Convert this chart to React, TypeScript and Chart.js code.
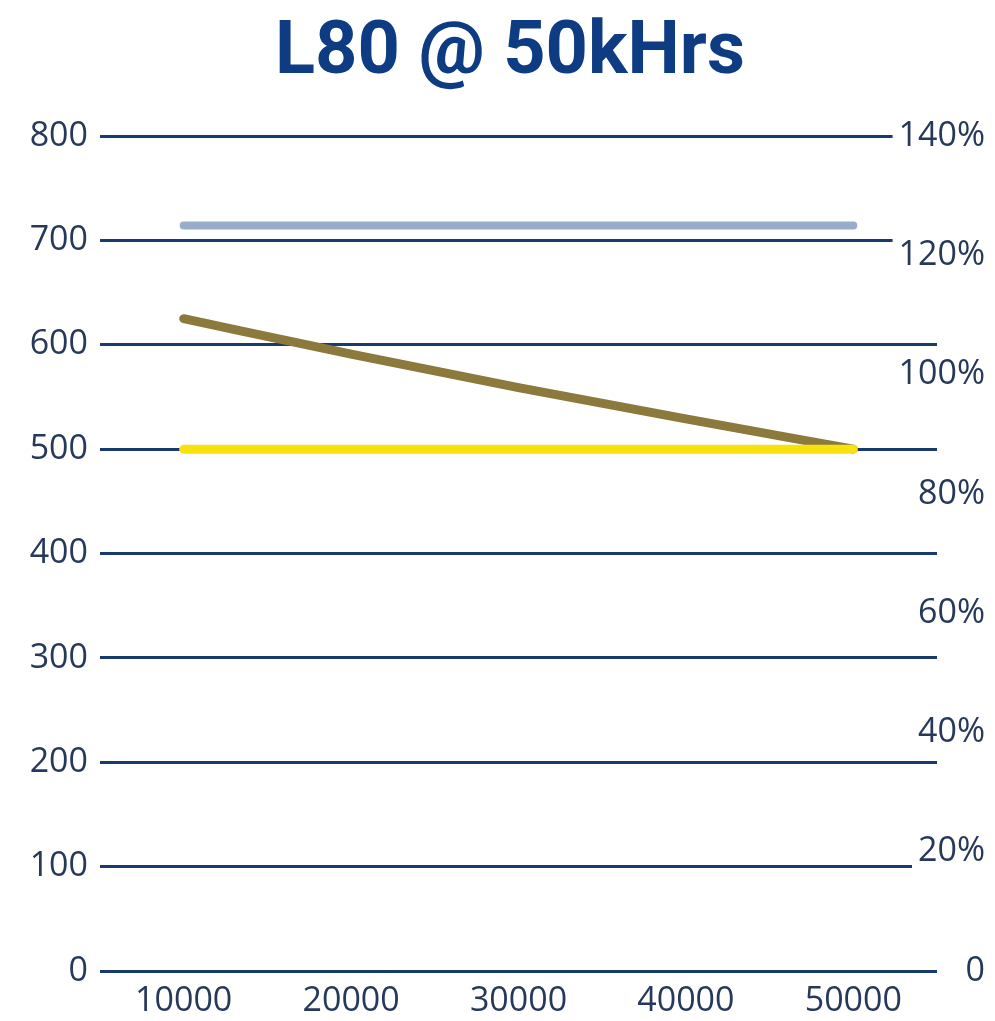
import { useEffect, useRef } from 'react';
import { Chart, registerables } from 'chart.js';

Chart.register(...registerables);

// Operating hours along the x axis
const hours = ['10000', '20000', '30000', '40000', '50000'];
// Lumen output declining to the L80 point at 50k hours
const lumenOutput = [625, 591, 559, 529, 500];
// L80 threshold in lumens
const l80Threshold = [500, 500, 500, 500, 500];
// Initial output as a percentage of the threshold (right axis)
const initialPercent = [125, 125, 125, 125, 125];

const lumenMin = 0;
const lumenMax = 800;
const lumenStep = 100;
const percentMin = 0;
const percentMax = 140;
const percentStep = 20;

const tickFont = { family: "'Open Sans', sans-serif", size: 34 };
const tickColor = '#26395A';
const gridColor = '#183A6C';

export default function App() {
  const canvasRef = useRef<HTMLCanvasElement | null>(null);

  useEffect(() => {
    if (!canvasRef.current) return;
    const chart = new Chart(canvasRef.current, {
      type: 'line',
      data: {
        labels: hours,
        datasets: [
          {
            label: 'L80',
            data: l80Threshold,
            yAxisID: 'y',
            borderColor: '#F8E10C',
            borderWidth: 9,
            borderCapStyle: 'round',
            pointRadius: 0,
            order: 0,
          },
          {
            label: 'Lumens',
            data: lumenOutput,
            yAxisID: 'y',
            borderColor: '#8B7A3B',
            borderWidth: 9,
            borderCapStyle: 'round',
            cubicInterpolationMode: 'monotone',
            pointRadius: 0,
            order: 1,
          },
          {
            label: 'Initial %',
            data: initialPercent,
            yAxisID: 'y1',
            borderColor: '#98ADCA',
            borderWidth: 8,
            borderCapStyle: 'round',
            pointRadius: 0,
            order: 2,
          },
        ],
      },
      options: {
        responsive: false,
        animation: false,
        // negative right padding shifts the title centre to the right
        layout: { padding: { left: 0, right: -25, top: 0, bottom: 0 } },
        plugins: {
          legend: { display: false },
          tooltip: { enabled: false },
          title: {
            display: true,
            text: 'L80 @ 50kHrs',
            color: '#0E3C82',
            font: { family: 'Roboto', weight: 'bold', size: 74 },
            padding: { top: 9.7, bottom: 37.5 },
          },
        },
        scales: {
          x: {
            type: 'category',
            offset: true,
            grid: { display: false, drawTicks: false },
            border: { display: false },
            ticks: { font: tickFont, color: tickColor, padding: 10, maxRotation: 0 },
            afterFit: (scale: any) => {
              scale.height = 50;
            },
          },
          y: {
            position: 'left',
            min: lumenMin,
            max: lumenMax,
            ticks: { stepSize: lumenStep, font: tickFont, color: tickColor, padding: 12 },
            grid: { color: gridColor, lineWidth: 3, drawTicks: false },
            border: { display: false },
            afterFit: (scale: any) => {
              scale.width = 100;
              scale.paddingTop = 0;
              scale.paddingBottom = 0;
            },
          },
          y1: {
            position: 'right',
            min: percentMin,
            max: percentMax,
            grid: { display: false, drawTicks: false },
            border: { display: false },
            ticks: {
              stepSize: percentStep,
              font: tickFont,
              color: tickColor,
              mirror: true,
              crossAlign: 'near',
              padding: 48,
              z: 1,
              showLabelBackdrop: true,
              backdropColor: '#ffffff',
              backdropPadding: { top: 2, bottom: 2, left: 6, right: 2 },
              callback: (v: any) => (Number(v) === 0 ? '0' : `${v}%`),
            },
            afterFit: (scale: any) => {
              scale.width = 83;
              scale.paddingTop = 0;
              scale.paddingBottom = 0;
            },
          },
        },
      },
    });
    return () => chart.destroy();
  }, []);

  return (
    <div style={{ position: 'absolute', left: 0, top: 0, width: 995, height: 1021, background: '#fff' }}>
      <canvas ref={canvasRef} width={995} height={1021} style={{ display: 'block' }} />
    </div>
  );
}
